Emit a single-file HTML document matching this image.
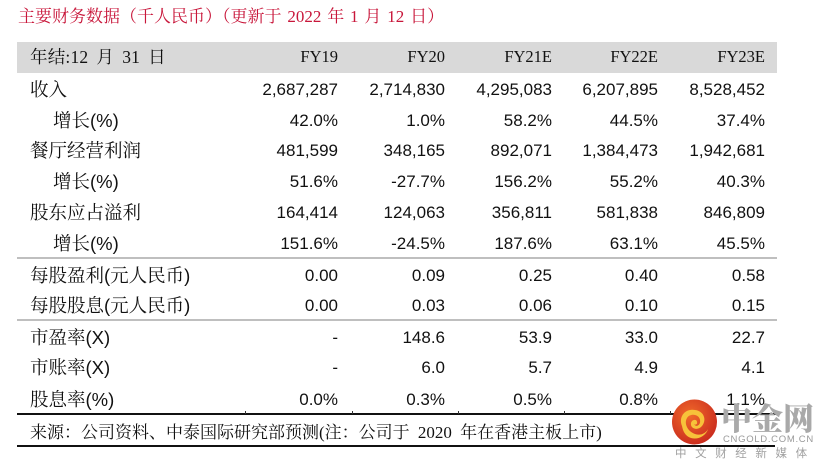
<!DOCTYPE html>
<html><head><meta charset="utf-8">
<style>
*{margin:0;padding:0;box-sizing:border-box}
html,body{width:829px;height:472px;background:#fff;overflow:hidden}
body{position:relative;font-family:"Liberation Sans","Noto Serif CJK SC",serif;color:#111}
.title{position:absolute;left:18px;top:4px;height:26px;line-height:26px;font-family:"Liberation Serif","Noto Serif CJK SC",serif;font-size:17px;color:#c8163a;white-space:nowrap;word-spacing:1.6px}
.band{position:absolute;left:17px;top:42px;width:760px;height:31px;background:#d9d9d9}
.row{position:absolute;left:0;width:829px;height:30px;line-height:30px;white-space:nowrap}
.lab{position:absolute;left:30px;font-family:"Liberation Sans","Noto Serif CJK SC",serif;font-size:18.5px}
.lab.ind{left:53px}
.c{position:absolute;font-size:17px;text-align:right;width:100px}
.c1{left:238px}.c2{left:345px}.c3{left:452px}.c4{left:558px}.c5{left:665px}
.hdr .lab{font-family:"Liberation Serif","Noto Serif CJK SC",serif;font-size:17.5px;word-spacing:3.5px;letter-spacing:0.2px}
.hdr .c{font-family:"Liberation Serif",serif;font-size:16.5px}
.line{position:absolute;left:17px;width:760px}
.src{position:absolute;left:30px;top:418px;height:30px;line-height:30px;font-family:"Liberation Serif","Noto Serif CJK SC",serif;font-size:17px;white-space:nowrap;word-spacing:4px}
.tick{position:absolute;top:411px;width:1px;height:3px;background:#333}
.wm{position:absolute}
</style></head><body>
<div class="title">主要财务数据（千人民币）（更新于 2022 年 1 月 12 日）</div>
<div class="band"></div>
<div class="row hdr" style="top:42px"><span class="lab">年结:12 月 31 日</span><span class="c c1">FY19</span><span class="c c2">FY20</span><span class="c c3">FY21E</span><span class="c c4">FY22E</span><span class="c c5">FY23E</span></div>

<div class="row" style="top:75px"><span class="lab">收入</span><span class="c c1">2,687,287</span><span class="c c2">2,714,830</span><span class="c c3">4,295,083</span><span class="c c4">6,207,895</span><span class="c c5">8,528,452</span></div>
<div class="row" style="top:106px"><span class="lab ind">增长(%)</span><span class="c c1">42.0%</span><span class="c c2">1.0%</span><span class="c c3">58.2%</span><span class="c c4">44.5%</span><span class="c c5">37.4%</span></div>
<div class="row" style="top:136px"><span class="lab">餐厅经营利润</span><span class="c c1">481,599</span><span class="c c2">348,165</span><span class="c c3">892,071</span><span class="c c4">1,384,473</span><span class="c c5">1,942,681</span></div>
<div class="row" style="top:167px"><span class="lab ind">增长(%)</span><span class="c c1">51.6%</span><span class="c c2">-27.7%</span><span class="c c3">156.2%</span><span class="c c4">55.2%</span><span class="c c5">40.3%</span></div>
<div class="row" style="top:198px"><span class="lab">股东应占溢利</span><span class="c c1">164,414</span><span class="c c2">124,063</span><span class="c c3">356,811</span><span class="c c4">581,838</span><span class="c c5">846,809</span></div>
<div class="row" style="top:229px"><span class="lab ind">增长(%)</span><span class="c c1">151.6%</span><span class="c c2">-24.5%</span><span class="c c3">187.6%</span><span class="c c4">63.1%</span><span class="c c5">45.5%</span></div>

<div class="line" style="top:257px;height:2px;background:#bfbfbf"></div>

<div class="row" style="top:261px"><span class="lab">每股盈利(元人民币)</span><span class="c c1">0.00</span><span class="c c2">0.09</span><span class="c c3">0.25</span><span class="c c4">0.40</span><span class="c c5">0.58</span></div>
<div class="row" style="top:291px"><span class="lab">每股股息(元人民币)</span><span class="c c1">0.00</span><span class="c c2">0.03</span><span class="c c3">0.06</span><span class="c c4">0.10</span><span class="c c5">0.15</span></div>

<div class="line" style="top:319px;height:2px;background:#bfbfbf"></div>

<div class="row" style="top:323px"><span class="lab">市盈率(X)</span><span class="c c1">-</span><span class="c c2">148.6</span><span class="c c3">53.9</span><span class="c c4">33.0</span><span class="c c5">22.7</span></div>
<div class="row" style="top:353px"><span class="lab">市账率(X)</span><span class="c c1">-</span><span class="c c2">6.0</span><span class="c c3">5.7</span><span class="c c4">4.9</span><span class="c c5">4.1</span></div>
<div class="row" style="top:385px"><span class="lab">股息率(%)</span><span class="c c1">0.0%</span><span class="c c2">0.3%</span><span class="c c3">0.5%</span><span class="c c4">0.8%</span><span class="c c5">1.1%</span></div>

<div class="line" style="top:413px;height:1.5px;background:#111"></div>
<div class="tick" style="left:245px"></div>
<div class="tick" style="left:352px"></div>
<div class="tick" style="left:458px"></div>
<div class="tick" style="left:564px"></div>
<div class="tick" style="left:670px"></div>

<div class="src">来源：公司资料、中泰国际研究部预测(注：公司于 2020 年在香港主板上市)</div>
<div class="line" style="top:445px;height:1.5px;background:#111;width:758px"></div>

<!-- watermark -->
<svg class="wm" style="left:668px;top:398px" width="54" height="50" viewBox="0 0 54 50">
<defs>
<radialGradient id="g" cx="0.4" cy="0.35" r="0.7">
<stop offset="0" stop-color="#f06a2a"/>
<stop offset="1" stop-color="#c92a1e"/>
</radialGradient>
</defs>
<circle cx="26.5" cy="24" r="22.5" fill="url(#g)"/>
<path d="M14 28 C10 18 18 10 27 12 C36 13 39 22 34 28 C30 33 22 31 23 25 C24 21 29 21 29 24 C30 27 26 27 26 26 C28 30 33 27 32 22 C31 16 22 15 19 20 C16 25 19 33 27 36 C33 38 38 35 40 31 C38 38 30 42 23 40 C17 38 15 33 14 28 Z" fill="#f7c23a"/>
</svg>
<div class="wm" style="left:721px;top:398px;font-family:'Noto Serif CJK SC',serif;font-weight:900;font-size:31px;line-height:38px;color:#a9a9a9;white-space:nowrap">中金网</div>
<div class="wm" style="left:723px;top:434px;font-family:'Liberation Sans',sans-serif;font-size:9.5px;line-height:12px;color:#9a9a9a;letter-spacing:0.7px;white-space:nowrap">CNGOLD.COM.CN</div>
<div class="wm" style="left:675px;top:446px;font-family:'Noto Sans CJK SC',sans-serif;font-size:11.5px;line-height:14px;color:#a0a0a0;letter-spacing:8.6px;white-space:nowrap">中文财经新媒体</div>
</body></html>
